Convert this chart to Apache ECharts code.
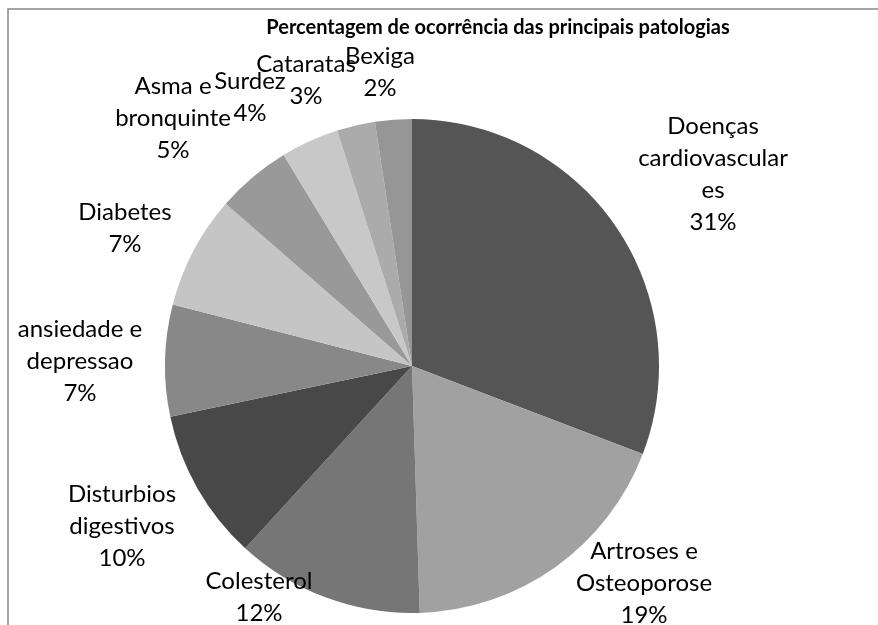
<!DOCTYPE html>
<html>
<head>
<meta charset="utf-8">
<script src="https://cdn.jsdelivr.net/npm/echarts@6/dist/echarts.min.js"></script>
<style>
  html, body { margin: 0; padding: 0; background: #fff; }
  #grafico { width: 878px; height: 625px; }
</style>
</head>
<body>
<div id="grafico"></div>
<script>
// Dados do grafico
var categorias = ['Doenças\ncardiovascular\nes', 'Artroses e\nOsteoporose', 'Colesterol', 'Disturbios\ndigestivos',
  'ansiedade e\ndepressao', 'Diabetes', 'Asma e\nbronquinte', 'Surdez', 'Cataratas', 'Bexiga'];
var valores = [30.8, 18.7, 12.3, 9.9, 7.3, 7.4, 4.9, 3.8, 2.5, 2.4];
var percentuais = ['31%', '19%', '12%', '10%', '7%', '7%', '5%', '4%', '3%', '2%'];

// Estilo
var cores = ['#555555', '#a1a1a1', '#767676', '#484848', '#888888', '#c5c5c5', '#999999', '#c8c8c8', '#ababab', '#969696'];
// centro de cada bloco de rotulo (como o Excel os colocou)
var posRotulos = [[713, 174], [644, 583], [259, 597], [122, 526], [80, 361],
  [125, 228], [173, 118], [250, 97], [306, 80], [380, 72]];

var myChart = echarts.init(document.getElementById('grafico'));

var dados = [];
for (var i = 0; i < valores.length; i++) {
  dados.push({ name: categorias[i], value: valores[i], itemStyle: { color: cores[i] } });
}

var option = {
  animation: false,
  backgroundColor: '#ffffff',
  graphic: [
    {
      type: 'rect',
      z: -1,
      shape: { x: 8, y: 9, width: 900, height: 700 },
      style: { fill: 'none', stroke: '#868686', lineWidth: 1.5 }
    },
    {
      type: 'text',
      x: 498,
      y: 28,
      style: {
        text: 'Percentagem de ocorrência das principais patologias',
        font: 'bold 20px Lato',
        fill: '#000',
        align: 'center',
        verticalAlign: 'middle'
      }
    }
  ],
  series: [{
    type: 'pie',
    center: [412, 366],
    radius: 247,
    startAngle: 90,
    clockwise: true,
    avoidLabelOverlap: false,
    silent: true,
    itemStyle: { borderWidth: 0 },
    label: {
      show: true,
      position: 'outside',
      formatter: function (p) {
        return categorias[p.dataIndex] + '\n' + percentuais[p.dataIndex];
      },
      fontFamily: 'Lato',
      fontSize: 24,
      lineHeight: 32,
      color: '#000',
      align: 'center'
    },
    labelLine: { show: false },
    labelLayout: function (p) {
      var pos = posRotulos[p.dataIndex];
      return { x: pos[0], y: pos[1], align: 'center', verticalAlign: 'middle' };
    },
    data: dados
  }]
};

myChart.setOption(option);
</script>
</body>
</html>
